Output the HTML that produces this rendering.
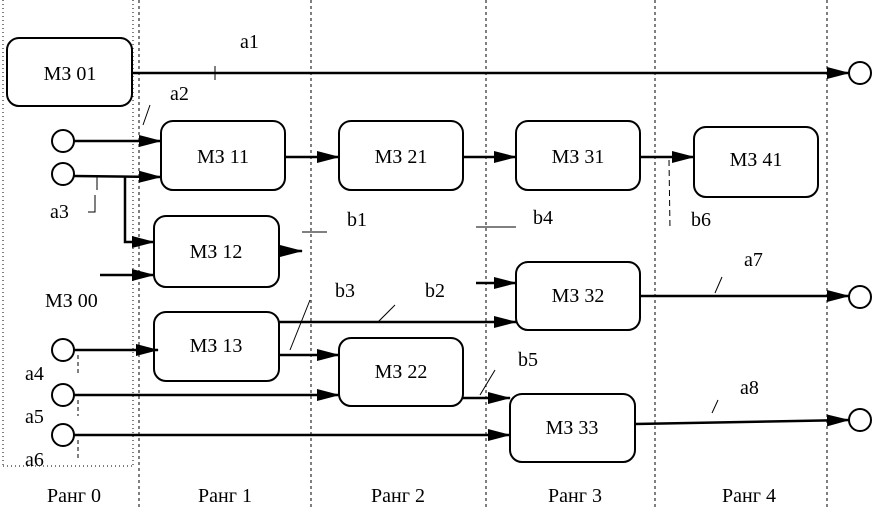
<!DOCTYPE html>
<html><head><meta charset="utf-8"><style>
body{margin:0;background:#fff;}
svg{display:block;}
text{font-family:"Liberation Serif",serif;font-size:20px;fill:#000;}
</style></head><body>
<svg width="873" height="507" viewBox="0 0 873 507" xmlns="http://www.w3.org/2000/svg">
<defs>
<marker id="ar" markerWidth="24" markerHeight="12" refX="22" refY="6" orient="auto" markerUnits="userSpaceOnUse">
<path d="M0,0 L23,6 L0,12 Z" fill="#000"/></marker>
</defs>
<g stroke="#000" stroke-width="1" stroke-dasharray="3,3" fill="none">
<line x1="139" y1="0" x2="139" y2="507"/>
<line x1="311" y1="0" x2="311" y2="507"/>
<line x1="486" y1="0" x2="486" y2="507"/>
<line x1="655" y1="0" x2="655" y2="507"/>
<line x1="827" y1="0" x2="827" y2="507"/>
</g>
<g stroke="#000" stroke-width="1" stroke-dasharray="1,3" fill="none">
<line x1="3" y1="0" x2="3" y2="466"/>
<line x1="133" y1="0" x2="133" y2="466"/>
<line x1="3" y1="466" x2="133" y2="466"/>
</g>
<g stroke="#000" stroke-width="2" fill="#fff">
<rect x="7" y="38" width="125" height="68" rx="12"/>
<rect x="161" y="121" width="124" height="69" rx="12"/>
<rect x="339" y="121" width="124" height="69" rx="12"/>
<rect x="516" y="121" width="124" height="69" rx="12"/>
<rect x="694" y="127" width="124" height="70" rx="12"/>
<rect x="154" y="216" width="125" height="71" rx="12"/>
<rect x="516" y="262" width="124" height="68" rx="12"/>
<rect x="154" y="312" width="125" height="69" rx="12"/>
<rect x="339" y="338" width="124" height="68" rx="12"/>
<rect x="510" y="394" width="125" height="68" rx="12"/>
<circle cx="63" cy="141" r="11"/>
<circle cx="63" cy="174" r="11"/>
<circle cx="63" cy="350" r="11"/>
<circle cx="63" cy="395" r="11"/>
<circle cx="63" cy="435" r="11"/>
<circle cx="860" cy="73" r="11"/>
<circle cx="860" cy="297" r="11"/>
<circle cx="860" cy="420" r="11"/>
</g>
<g stroke="#000" stroke-width="2.5" fill="none" marker-end="url(#ar)">
<line x1="132" y1="73" x2="849" y2="73"/>
<line x1="74" y1="141" x2="161" y2="141"/>
<line x1="74" y1="176" x2="161" y2="177"/>
<polyline points="125,176 125,242 154,242"/>
<line x1="100" y1="275" x2="154" y2="275"/>
<line x1="74" y1="350" x2="158" y2="350"/>
<line x1="285" y1="157" x2="339" y2="157"/>
<line x1="463" y1="157" x2="516" y2="157"/>
<line x1="640" y1="157" x2="694" y2="157"/>
<line x1="640" y1="296" x2="849" y2="296"/>
<polyline points="279,322 516,322"/>
<line x1="279" y1="355" x2="339" y2="355"/>
<line x1="74" y1="395" x2="339" y2="395"/>
<line x1="463" y1="398" x2="510" y2="398"/>
<line x1="74" y1="435" x2="510" y2="435"/>
<line x1="635" y1="424" x2="849" y2="420"/>
<line x1="476" y1="283" x2="516" y2="283"/>
<line x1="279" y1="251" x2="302" y2="251"/>
</g>
<g stroke="#000" stroke-width="1" fill="none">
<line x1="215" y1="66" x2="215" y2="80"/>
<line x1="143" y1="125" x2="150" y2="105"/>
<line x1="97" y1="176" x2="97" y2="190"/>
<polyline points="88,212 95,212 95,195"/>
<line x1="302" y1="232" x2="327" y2="232"/>
<line x1="476" y1="227" x2="516" y2="227"/>
<line x1="669" y1="160" x2="670" y2="230" stroke-dasharray="6,4"/>
<line x1="715" y1="293" x2="722" y2="277"/>
<line x1="290" y1="350" x2="310" y2="300"/>
<line x1="378" y1="322" x2="395" y2="305"/>
<line x1="480" y1="395" x2="495" y2="370"/>
<line x1="712" y1="413" x2="718" y2="400"/>
<line x1="78" y1="355" x2="78" y2="374" stroke-dasharray="4,3"/>
<line x1="78" y1="400" x2="78" y2="416" stroke-dasharray="4,3"/>
<line x1="78" y1="440" x2="78" y2="459" stroke-dasharray="4,3"/>
</g>
<g text-anchor="middle">
<text x="70" y="80">МЗ 01</text>
<text x="223" y="163">МЗ 11</text>
<text x="401" y="163">МЗ 21</text>
<text x="578" y="163">МЗ 31</text>
<text x="756" y="166">МЗ 41</text>
<text x="216" y="258">МЗ 12</text>
<text x="578" y="302">МЗ 32</text>
<text x="216" y="352">МЗ 13</text>
<text x="401" y="378">МЗ 22</text>
<text x="572" y="434">МЗ 33</text>
<text x="74" y="502">Ранг 0</text>
<text x="225" y="502">Ранг 1</text>
<text x="398" y="502">Ранг 2</text>
<text x="575" y="502">Ранг 3</text>
<text x="749" y="502">Ранг 4</text>
</g>
<text x="240" y="48">a1</text>
<text x="170" y="100">a2</text>
<text x="50" y="218">a3</text>
<text x="347" y="226">b1</text>
<text x="533" y="224">b4</text>
<text x="691" y="226">b6</text>
<text x="744" y="266">a7</text>
<text x="335" y="297">b3</text>
<text x="425" y="297">b2</text>
<text x="518" y="366">b5</text>
<text x="740" y="394">a8</text>
<text x="45" y="307">МЗ 00</text>
<text x="25" y="380">a4</text>
<text x="25" y="423">a5</text>
<text x="25" y="466">a6</text>
</svg>
</body></html>
